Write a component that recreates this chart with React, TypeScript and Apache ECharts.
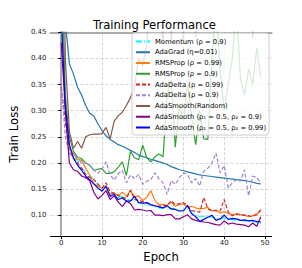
import React, { useEffect, useRef } from "react";
import * as echarts from "echarts";

const epochs = [0,1,2,3,4,5,6,7,8,9,10,11,12,13,14,15,16,17,18,19,20,21,22,23,24,25,26,27,28,29,30,31,32,33,34,35,36,37,38,39,40,41,42,43,44,45,46,47,48,49];

const seriesNames = [
  "Momentum (ρ = 0.9)",
  "AdaGrad (η=0.01)",
  "RMSProp (ρ = 0.99)",
  "RMSProp (ρ = 0.9)",
  "AdaDelta (ρ = 0.99)",
  "AdaDelta (ρ = 0.9)",
  "AdaSmooth(Random)",
  "AdaSmooth (ρ₁ = 0.5, ρ₂ = 0.9)",
  "AdaSmooth (ρ₁ = 0.5, ρ₂ = 0.99)",
];

const momentum = [0.5,0.30,0.23,0.212,0.205,0.19,0.183,0.176,0.168,0.158,0.15,0.157,0.14,0.143,0.134,0.136,0.131,0.128,0.13,0.124,0.122,0.12,0.119,0.116,0.114,0.113,0.115,0.112,0.113,0.109,0.11,0.112,0.104,0.1,0.097,0.098,0.096,0.097,0.094,0.093,0.095,0.091,0.092,0.09,0.09,0.089,0.088,0.088,0.086,0.084];
const adagrad = [1.2,0.47,0.39,0.37,0.345,0.33,0.31,0.295,0.29,0.275,0.262,0.252,0.245,0.24,0.235,0.232,0.228,0.224,0.22,0.215,0.212,0.21,0.207,0.205,0.202,0.2,0.197,0.193,0.19,0.187,0.185,0.183,0.181,0.179,0.177,0.176,0.175,0.174,0.173,0.172,0.171,0.17,0.169,0.168,0.167,0.166,0.165,0.163,0.161,0.16];
const rmsprop99 = [0.55,0.31,0.228,0.218,0.207,0.205,0.19,0.177,0.16,0.156,0.152,0.156,0.14,0.142,0.137,0.144,0.136,0.147,0.135,0.137,0.128,0.134,0.147,0.128,0.12,0.121,0.119,0.125,0.117,0.12,0.122,0.115,0.117,0.114,0.112,0.113,0.115,0.108,0.11,0.104,0.107,0.103,0.101,0.102,0.101,0.1,0.097,0.099,0.1,0.111];
const rmsprop9 = [0.6,0.33,0.25,0.222,0.211,0.208,0.2,0.196,0.186,0.188,0.189,0.18,0.18,0.183,0.192,0.202,0.176,0.222,0.21,0.206,0.234,0.21,0.202,0.212,0.217,0.212,0.33,0.36,0.23,0.31,0.28,0.35,0.29,0.235,0.3,0.246,0.245,0.4,0.5,0.38,0.3,0.35,0.4,0.5,0.36,0.33,0.38,0.35,0.42,0.365];
const adadelta99 = [0.345,0.28,0.22,0.21,0.2,0.19,0.178,0.172,0.168,0.16,0.152,0.162,0.145,0.142,0.138,0.134,0.132,0.148,0.13,0.128,0.126,0.124,0.12,0.118,0.117,0.119,0.118,0.128,0.12,0.122,0.124,0.118,0.109,0.107,0.106,0.134,0.112,0.108,0.109,0.108,0.13,0.106,0.099,0.103,0.1,0.1,0.099,0.097,0.103,0.109];
const adadelta9 = [0.355,0.25,0.22,0.213,0.211,0.199,0.2,0.196,0.186,0.18,0.188,0.202,0.177,0.167,0.18,0.186,0.162,0.177,0.17,0.178,0.159,0.165,0.168,0.181,0.169,0.162,0.14,0.166,0.159,0.172,0.181,0.178,0.162,0.17,0.156,0.184,0.19,0.2,0.219,0.181,0.195,0.152,0.162,0.168,0.165,0.187,0.137,0.175,0.172,0.162];
const adasmoothRandom = [0.9,0.4,0.26,0.228,0.241,0.228,0.25,0.254,0.255,0.255,0.256,0.268,0.246,0.28,0.29,0.297,0.31,0.325,0.345,0.4,0.385,0.43,0.52,0.47,0.5,0.43,0.6,0.43,0.6,0.65,0.43,0.6,0.55,0.44,0.6,0.65,0.7,0.62,0.68,0.6,0.66,0.7,0.62,0.65,0.6,0.68,0.62,0.44,0.6,0.65];
const adasmooth9 = [0.43,0.30,0.2,0.187,0.184,0.175,0.172,0.166,0.144,0.131,0.138,0.147,0.13,0.137,0.125,0.117,0.127,0.122,0.11,0.111,0.11,0.108,0.109,0.1,0.1,0.099,0.101,0.101,0.093,0.093,0.097,0.101,0.093,0.09,0.088,0.087,0.086,0.084,0.082,0.081,0.089,0.083,0.085,0.083,0.082,0.081,0.078,0.085,0.079,0.097];
const adasmooth99 = [0.48,0.31,0.235,0.209,0.196,0.186,0.175,0.168,0.16,0.152,0.146,0.155,0.136,0.14,0.13,0.133,0.127,0.127,0.136,0.124,0.123,0.124,0.12,0.118,0.116,0.114,0.118,0.112,0.111,0.108,0.108,0.119,0.103,0.097,0.088,0.092,0.096,0.1,0.09,0.093,0.1,0.092,0.094,0.093,0.09,0.091,0.089,0.09,0.088,0.087];

const xTicks = [0, 10, 20, 30, 40, 50];
const yTicks = [0.1, 0.15, 0.2, 0.25, 0.3, 0.35, 0.4, 0.45];

const FONT = "DejaVu Sans";

export default function App() {
  const ref = useRef<HTMLDivElement>(null);
  useEffect(() => {
    if (!ref.current) return;
    const chart = echarts.init(ref.current, null, { renderer: "svg" });
    const allData = [momentum, adagrad, rmsprop99, rmsprop9, adadelta99, adadelta9, adasmoothRandom, adasmooth9, adasmooth99];
    const colors = ["#00ffff", "#1f77b4", "#ff7f0e", "#2ca02c", "#d62728", "#a682d0", "#8c564b", "#800080", "#0000ff"];
    const types: any[] = [[6, 2, 1, 2], "solid", "solid", "solid", [4, 2], [4, 2], "solid", "solid", "solid"];
    const series = allData.map((d, i) => ({
      name: seriesNames[i],
      type: "line",
      data: epochs.map((e, j) => [e, d[j]]),
      showSymbol: false,
      symbol: "none",
      clip: true,
      lineStyle: { color: colors[i], width: 1.2, type: types[i] },
      itemStyle: { color: colors[i] },
      z: 2,
    }));
    const grid = { left: 37.3, right: 302 - 271.7, top: 32.3, bottom: 268 - 238.4 };
    chart.setOption({
      animation: false,
      grid,
      graphic: [
        {
          type: "text",
          x: 154.5,
          y: 25,
          style: { text: "Training Performance", align: "center", verticalAlign: "middle", font: `11.6px "${FONT}"`, fill: "#000" },
        },
      ],
      legend: {
        data: seriesNames,
        orient: "vertical",
        left: 132,
        top: 33,
        itemWidth: 14,
        itemHeight: 7,
        itemGap: 3.75,
        padding: [5, 3, 4, 3],
        selectedMode: false,
        backgroundColor: "rgba(255,255,255,0.8)",
        borderColor: "#cccccc",
        borderWidth: 1,
        borderRadius: 3,
        itemStyle: { opacity: 0, borderWidth: 0 },
        textStyle: { fontSize: 6.8, fontFamily: FONT, color: "#000" },
        z: 10,
      },
      xAxis: [
        {
          type: "value",
          min: -2.64,
          max: 51.67,
          name: "Epoch",
          nameLocation: "middle",
          nameGap: 10,
          nameTextStyle: { fontSize: 11.6, fontFamily: FONT, color: "#000" },
          axisLine: { lineStyle: { color: "#000", width: 1 } },
          axisTick: { show: true, length: 3, customValues: xTicks, lineStyle: { color: "#000" } },
          axisLabel: { customValues: xTicks, fontSize: 7, fontFamily: FONT, color: "#222", margin: 3 },
          splitLine: { show: true, lineStyle: { color: "#c8c8c8", type: [3, 2], width: 0.8 } },
        },
        {
          type: "value",
          position: "top",
          min: -2.64,
          max: 51.67,
          axisLine: { show: true, lineStyle: { color: "#aaaaaa", width: 2 } },
          axisTick: { show: false },
          axisLabel: { show: false },
          splitLine: { show: false },
        },
      ],
      yAxis: [
        {
          type: "value",
          min: 0.06,
          max: 0.45,
          name: "Train Loss",
          nameLocation: "middle",
          nameGap: 20,
          nameTextStyle: { fontSize: 11.6, fontFamily: FONT, color: "#000" },
          axisLine: { show: true, lineStyle: { color: "#000", width: 1 } },
          axisTick: { show: true, length: 3, customValues: yTicks, lineStyle: { color: "#000" } },
          axisLabel: {
            customValues: yTicks,
            fontSize: 7,
            fontFamily: FONT,
            color: "#222",
            margin: 4,
            formatter: (v: number) => v.toFixed(2),
          },
          splitLine: { show: true, lineStyle: { color: "#c8c8c8", type: [3, 2], width: 0.8 } },
        },
        {
          type: "value",
          position: "right",
          min: 0.06,
          max: 0.45,
          axisLine: { show: true, lineStyle: { color: "#aaaaaa", width: 2 } },
          axisTick: { show: false },
          axisLabel: { show: false },
          splitLine: { show: false },
        },
      ],
      series,
    });
    return () => chart.dispose();
  }, []);
  return <div ref={ref} style={{ width: 302, height: 268, position: "absolute", left: 0, top: 0 }} />;
}
